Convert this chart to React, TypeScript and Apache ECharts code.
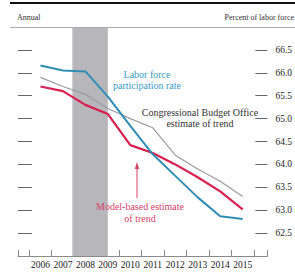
import React, { useEffect, useRef } from "react";
import * as echarts from "echarts";

const years = [2006, 2007, 2008, 2009, 2010, 2011, 2012, 2013, 2014, 2015];
const participationRate = [66.16, 66.05, 66.03, 65.48, 64.84, 64.22, 63.75, 63.28, 62.87, 62.81];
const modelTrend = [65.7, 65.6, 65.3, 65.1, 64.42, 64.25, 64.0, 63.72, 63.41, 63.02];
const cboTrend = [65.9, 65.7, 65.53, 65.22, 65.0, 64.8, 64.2, 63.9, 63.63, 63.3];
const yTicks = [62.5, 63.0, 63.5, 64.0, 64.5, 65.0, 65.5, 66.0, 66.5];
const xTicks = [2005, 2005.5, 2006.5, 2007.5, 2008.5, 2009.5, 2010.5, 2011.5, 2012.5, 2013.5, 2014.5, 2015.5, 2016.1];
const recession = [2007.42, 2009.0];

const FONT = "Liberation Serif";

export default function App() {
  const ref = useRef<HTMLDivElement>(null);
  useEffect(() => {
    if (!ref.current) return;
    const chart = echarts.init(ref.current, null, { renderer: "svg" });
    const pair = (arr: number[]) => years.map((y, i) => [y, arr[i]]);
    const txt = (x: number, y: number, text: string, size: number, fill: string, align: string, lh: number) => ({
      type: "text",
      x,
      y,
      z: 100,
      style: {
        text,
        fontFamily: FONT,
        fontSize: size,
        fill,
        align,
        verticalAlign: "middle",
        lineHeight: lh,
      },
    });
    chart.setOption({
      animation: false,
      textStyle: { fontFamily: FONT },
      grid: { left: 18, right: 25, top: 27, bottom: 18 },
      xAxis: {
        type: "value",
        min: 2005,
        max: 2016.1,
        splitLine: { show: false },
        axisLine: { show: true, lineStyle: { color: "#8a8a8a", width: 1 } },
        axisTick: { show: true, inside: true, length: 6, customValues: xTicks, lineStyle: { color: "#8a8a8a" } },
        axisLabel: {
          customValues: years,
          formatter: (v: number) => String(Math.round(v)),
          fontFamily: FONT,
          fontSize: 9.5,
          color: "#222",
          margin: 4,
        },
      },
      yAxis: [
        {
          type: "value",
          position: "left",
          min: 62,
          max: 67,
          splitLine: { show: false },
          axisLine: { show: false },
          axisTick: { show: true, inside: true, length: 14, customValues: yTicks, lineStyle: { color: "#666" } },
          axisLabel: { show: false },
        },
        {
          type: "value",
          position: "right",
          min: 62,
          max: 67,
          splitLine: { show: false },
          axisLine: { show: false },
          axisTick: { show: true, inside: true, length: 12, customValues: yTicks, lineStyle: { color: "#666" } },
          axisLabel: {
            customValues: yTicks,
            formatter: (v: number) => v.toFixed(1),
            fontFamily: FONT,
            fontSize: 9.5,
            color: "#222",
            margin: 8,
          },
        },
      ],
      series: [
        {
          type: "line",
          name: "CBO",
          data: pair(cboTrend),
          symbol: "none",
          lineStyle: { color: "#9c9c9c", width: 1.2 },
          markArea: {
            silent: true,
            itemStyle: { color: "#b7b7bb" },
            data: [[{ xAxis: recession[0] }, { xAxis: recession[1] }]],
          },
          z: 2,
        },
        {
          type: "line",
          name: "Model",
          data: pair(modelTrend),
          symbol: "none",
          lineStyle: { color: "#d81f4f", width: 2.2 },
          z: 3,
        },
        {
          type: "line",
          name: "Participation",
          data: pair(participationRate),
          symbol: "none",
          lineStyle: { color: "#2f8db5", width: 2 },
          z: 4,
        },
      ],
      graphic: [
        { type: "line", z: 100, shape: { x1: 10, y1: 3, x2: 295, y2: 3 }, style: { stroke: "#111", lineWidth: 2 } },
        { type: "line", z: 100, shape: { x1: 10, y1: 27.5, x2: 295, y2: 27.5 }, style: { stroke: "#aaa", lineWidth: 1 } },
        txt(17, 17, "Annual", 8, "#333", "left", 9),
        txt(294, 17, "Percent of labor force", 8, "#333", "right", 9),
        txt(147, 80, "Labor force\nparticipation rate", 10, "#3a9ac6", "center", 11),
        txt(200, 118, "Congressional Budget Office\nestimate of trend", 10, "#333", "center", 11),
        txt(140, 212, "Model-based estimate\nof trend", 10, "#d8426a", "center", 12),
        { type: "line", z: 100, shape: { x1: 137, y1: 198, x2: 137, y2: 167 }, style: { stroke: "#d8426a", lineWidth: 1 } },
        {
          type: "polygon",
          z: 100,
          shape: { points: [[137, 162], [134.8, 169], [139.2, 169]] },
          style: { fill: "#d8426a" },
        },
      ],
    });
    return () => chart.dispose();
  }, []);
  return (
    <div
      ref={ref}
      style={{ position: "fixed", left: 0, top: 0, width: 295, height: 274, background: "#fff" }}
    />
  );
}
